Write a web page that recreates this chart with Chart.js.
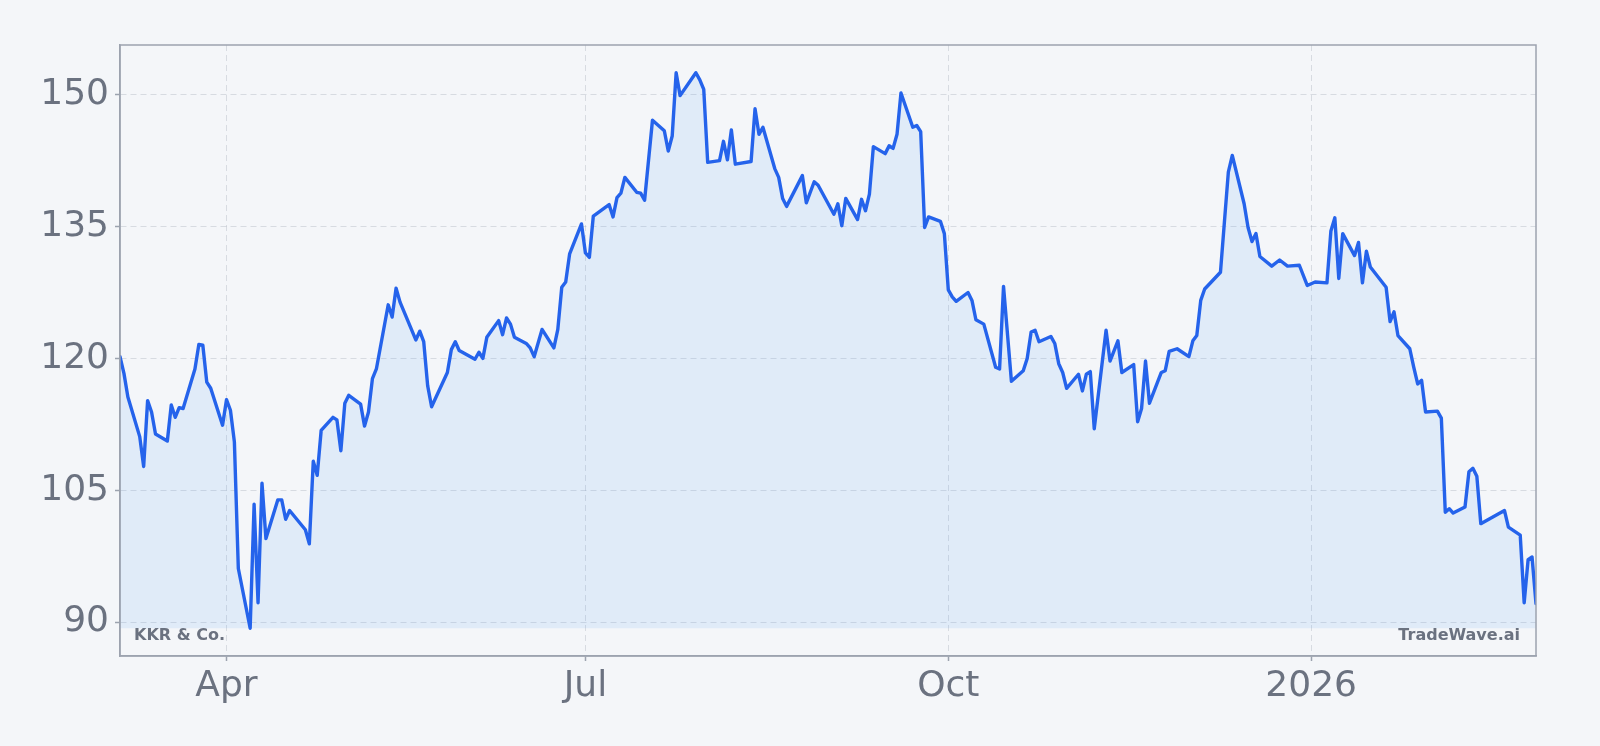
<!DOCTYPE html>
<html>
<head>
<meta charset="utf-8">
<title>KKR & Co.</title>
<script src="https://cdn.jsdelivr.net/npm/chart.js@4.4.1/dist/chart.umd.min.js"></script>
<style>
  html, body { margin: 0; padding: 0; background: #f4f6f9; }
  canvas { display: block; }
</style>
</head>
<body>
<canvas id="myChart" width="1600" height="746"></canvas>
<script>
// daily closes
var dates = [
  '2025-03-05','2025-03-06','2025-03-07','2025-03-10','2025-03-11','2025-03-12','2025-03-13','2025-03-14',
  '2025-03-17','2025-03-18','2025-03-19','2025-03-20','2025-03-21','2025-03-24','2025-03-25','2025-03-26',
  '2025-03-27','2025-03-28','2025-03-31','2025-04-01','2025-04-02','2025-04-03','2025-04-04','2025-04-07',
  '2025-04-08','2025-04-09','2025-04-10','2025-04-11','2025-04-14','2025-04-15','2025-04-16','2025-04-17',
  '2025-04-21','2025-04-22','2025-04-23','2025-04-24','2025-04-25','2025-04-28','2025-04-29','2025-04-30',
  '2025-05-01','2025-05-02','2025-05-05','2025-05-06','2025-05-07','2025-05-08','2025-05-09','2025-05-12',
  '2025-05-13','2025-05-14','2025-05-15','2025-05-19','2025-05-20','2025-05-21','2025-05-22','2025-05-23',
  '2025-05-27','2025-05-28','2025-05-29','2025-05-30','2025-06-03','2025-06-04','2025-06-05','2025-06-06',
  '2025-06-09','2025-06-10','2025-06-11','2025-06-12','2025-06-13','2025-06-16','2025-06-17','2025-06-18',
  '2025-06-20','2025-06-23','2025-06-24','2025-06-25','2025-06-26','2025-06-27','2025-06-30','2025-07-01',
  '2025-07-02','2025-07-03','2025-07-07','2025-07-08','2025-07-09','2025-07-10','2025-07-11','2025-07-14',
  '2025-07-15','2025-07-16','2025-07-18','2025-07-21','2025-07-22','2025-07-23','2025-07-24','2025-07-25',
  '2025-07-29','2025-07-30','2025-07-31','2025-08-01','2025-08-04','2025-08-05','2025-08-06','2025-08-07',
  '2025-08-08','2025-08-12','2025-08-13','2025-08-14','2025-08-15','2025-08-18','2025-08-19','2025-08-20',
  '2025-08-21','2025-08-25','2025-08-26','2025-08-28','2025-08-29','2025-09-02','2025-09-03','2025-09-04',
  '2025-09-05','2025-09-08','2025-09-09','2025-09-10','2025-09-11','2025-09-12','2025-09-15','2025-09-16',
  '2025-09-17','2025-09-18','2025-09-19','2025-09-22','2025-09-23','2025-09-24','2025-09-25','2025-09-26',
  '2025-09-29','2025-09-30','2025-10-01','2025-10-02','2025-10-03','2025-10-06','2025-10-07','2025-10-08',
  '2025-10-10','2025-10-13','2025-10-14','2025-10-15','2025-10-17','2025-10-20','2025-10-21','2025-10-22',
  '2025-10-23','2025-10-24','2025-10-27','2025-10-28','2025-10-29','2025-10-30','2025-10-31','2025-11-03',
  '2025-11-04','2025-11-05','2025-11-06','2025-11-07','2025-11-10','2025-11-11','2025-11-13','2025-11-14',
  '2025-11-17','2025-11-18','2025-11-19','2025-11-20','2025-11-21','2025-11-24','2025-11-25','2025-11-26',
  '2025-11-28','2025-12-01','2025-12-02','2025-12-03','2025-12-04','2025-12-05','2025-12-09','2025-12-10',
  '2025-12-11','2025-12-12','2025-12-15','2025-12-16','2025-12-17','2025-12-18','2025-12-19','2025-12-22',
  '2025-12-24','2025-12-26','2025-12-29','2025-12-31','2026-01-02','2026-01-05','2026-01-06','2026-01-07',
  '2026-01-08','2026-01-09','2026-01-12','2026-01-13','2026-01-14','2026-01-15','2026-01-16','2026-01-20',
  '2026-01-21','2026-01-22','2026-01-23','2026-01-26','2026-01-27','2026-01-28','2026-01-29','2026-01-30',
  '2026-02-02','2026-02-03','2026-02-04','2026-02-05','2026-02-06','2026-02-09','2026-02-10','2026-02-11',
  '2026-02-12','2026-02-13','2026-02-19','2026-02-20','2026-02-23','2026-02-24','2026-02-25','2026-02-26',
  '2026-02-27'
];

var prices = [
  120.2, 118.3, 115.6, 111.1, 107.7, 115.2, 113.9, 111.4,
  110.6, 114.7, 113.3, 114.4, 114.3, 118.8, 121.6, 121.5,
  117.3, 116.6, 112.4, 115.3, 114.1, 110.5, 96.1, 89.3,
  103.4, 92.2, 105.8, 99.5, 103.9, 103.9, 101.7, 102.7,
  100.5, 98.9, 108.3, 106.7, 111.8, 113.3, 113.0, 109.5,
  114.9, 115.8, 114.8, 112.3, 113.9, 117.7, 118.8, 126.1,
  124.7, 128.0, 126.4, 122.1, 123.1, 121.9, 116.9, 114.5,
  118.4, 121.0, 121.9, 120.9, 119.9, 120.7, 120.0, 122.4,
  124.3, 122.7, 124.6, 123.9, 122.4, 121.7, 121.2, 120.2,
  123.3, 121.2, 123.3, 128.1, 128.7, 131.9, 135.3, 132.0,
  131.5, 136.2, 137.5, 136.1, 138.3, 138.8, 140.6, 138.9,
  138.8, 138.0, 147.1, 145.9, 143.6, 145.3, 152.5, 149.9,
  152.5, 151.7, 150.6, 142.3, 142.5, 144.7, 142.6, 146.0,
  142.1, 142.4, 148.4, 145.5, 146.3, 141.6, 140.6, 138.2,
  137.3, 140.8, 137.7, 140.1, 139.7, 136.4, 137.6, 135.1,
  138.2, 135.8, 138.1, 136.8, 138.7, 144.1, 143.3, 144.2,
  143.9, 145.5, 150.2, 146.3, 146.5, 145.8, 134.9, 136.1,
  135.6, 134.2, 127.8, 127.0, 126.5, 127.5, 126.6, 124.4,
  123.9, 119.0, 118.8, 128.2, 117.4, 118.6, 120.0, 123.0,
  123.2, 121.9, 122.5, 121.7, 119.4, 118.4, 116.6, 118.2,
  116.3, 118.2, 118.5, 112.0, 123.2, 119.7, 122.0, 118.4,
  119.3, 112.8, 114.3, 119.7, 114.9, 118.4, 118.6, 120.8,
  121.1, 120.2, 122.0, 122.6, 126.6, 127.9, 129.8, 135.5,
  141.2, 143.1, 137.6, 134.9, 133.3, 134.2, 131.6, 130.5,
  131.2, 130.5, 130.6, 128.3, 128.7, 128.6, 134.5, 136.0,
  129.1, 134.2, 131.7, 133.2, 128.6, 132.2, 130.4, 128.1,
  124.2, 125.3, 122.6, 121.1, 119.0, 117.1, 117.5, 113.9,
  114.0, 113.2, 102.5, 102.9, 102.4, 103.1, 107.1, 107.5,
  106.6, 101.2, 102.7, 100.8, 99.9, 92.2, 97.1, 97.4,
  92.1
];

var tickDates = ['2025-04-01', '2025-07-01', '2025-10-01', '2026-01-01'];
var tickLabels = ['Apr', 'Jul', 'Oct', '2026'];
var yTicks = [90, 105, 120, 135, 150];

var title = 'KKR & Co.';
var brand = 'TradeWave.ai';

var DAY = 86400000;
var base = Date.parse('2025-04-01');

function toDay(d) {
    return Math.round((Date.parse(d) - base) / DAY);
}

var points = [];
for (var i = 0; i < dates.length; i++) {
    points.push({ x: toDay(dates[i]), y: prices[i] });
}

var lo = Math.min.apply(null, prices);
var hi = Math.max.apply(null, prices);
var pad = (hi - lo) * 0.05;

var gray = '#6b7280';
var frame = '#9ca3af';
var gridColor = 'rgba(156,163,175,0.32)';

var decor = {
    id: 'decor',
    beforeDraw: function (chart) {
        var ctx = chart.ctx;
        ctx.save();
        ctx.fillStyle = '#f4f6f9';
        ctx.fillRect(0, 0, chart.width, chart.height);
        ctx.restore();
    },
    afterDraw: function (chart) {
        var ctx = chart.ctx;
        var a = chart.chartArea;
        ctx.save();
        ctx.strokeStyle = frame;
        ctx.lineWidth = 1.5;
        ctx.strokeRect(a.left, a.top, a.right - a.left, a.bottom - a.top);
        ctx.fillStyle = gray;
        ctx.font = 'bold 16px "DejaVu Sans"';
        ctx.textBaseline = 'alphabetic';
        ctx.textAlign = 'left';
        ctx.fillText(title, a.left + 14, a.bottom - 16);
        ctx.textAlign = 'right';
        ctx.fillText(brand, a.right - 16, a.bottom - 16);
        ctx.restore();
    }
};

function createChart() {
    var ctx = document.getElementById('myChart').getContext('2d');
    new Chart(ctx, {
        type: 'line',
        data: {
            datasets: [{
                data: points,
                borderColor: '#2563eb',
                borderWidth: 3.4,
                borderJoinStyle: 'round',
                borderCapStyle: 'round',
                backgroundColor: 'rgba(96,165,250,0.13)',
                fill: { value: lo },
                pointRadius: 0,
                tension: 0
            }]
        },
        plugins: [decor],
        options: {
            responsive: false,
            animation: false,
            devicePixelRatio: 1,
            layout: { padding: { top: 45, right: 64, left: 0, bottom: 0 } },
            plugins: {
                legend: { display: false },
                tooltip: { enabled: false }
            },
            scales: {
                x: {
                    type: 'linear',
                    min: toDay(dates[0]),
                    max: toDay(dates[dates.length - 1]),
                    afterBuildTicks: function (scale) {
                        scale.ticks = tickDates.map(function (d) { return { value: toDay(d) }; });
                    },
                    afterFit: function (scale) { scale.height = 90; },
                    ticks: {
                        color: gray,
                        font: { family: 'DejaVu Sans', size: 36 },
                        padding: 4,
                        maxRotation: 0,
                        autoSkip: false,
                        callback: function (value, index) { return tickLabels[index]; }
                    },
                    grid: {
                        color: gridColor,
                        lineWidth: 1,
                        tickLength: 5,
                        tickColor: frame,
                        tickWidth: 1.5,
                        tickBorderDash: []
                    },
                    border: { display: true, color: frame, width: 1.5, dash: [6, 4] }
                },
                y: {
                    min: lo - pad,
                    max: hi + pad,
                    afterBuildTicks: function (scale) {
                        scale.ticks = yTicks.map(function (v) { return { value: v }; });
                    },
                    afterFit: function (scale) { scale.width = 120; },
                    ticks: {
                        color: gray,
                        font: { family: 'DejaVu Sans', size: 36 },
                        padding: 6
                    },
                    grid: {
                        color: gridColor,
                        lineWidth: 1,
                        tickLength: 5,
                        tickColor: frame,
                        tickWidth: 1.5,
                        tickBorderDash: []
                    },
                    border: { display: true, color: frame, width: 1.5, dash: [6, 4] }
                }
            }
        }
    });
}

createChart();
</script>
</body>
</html>
